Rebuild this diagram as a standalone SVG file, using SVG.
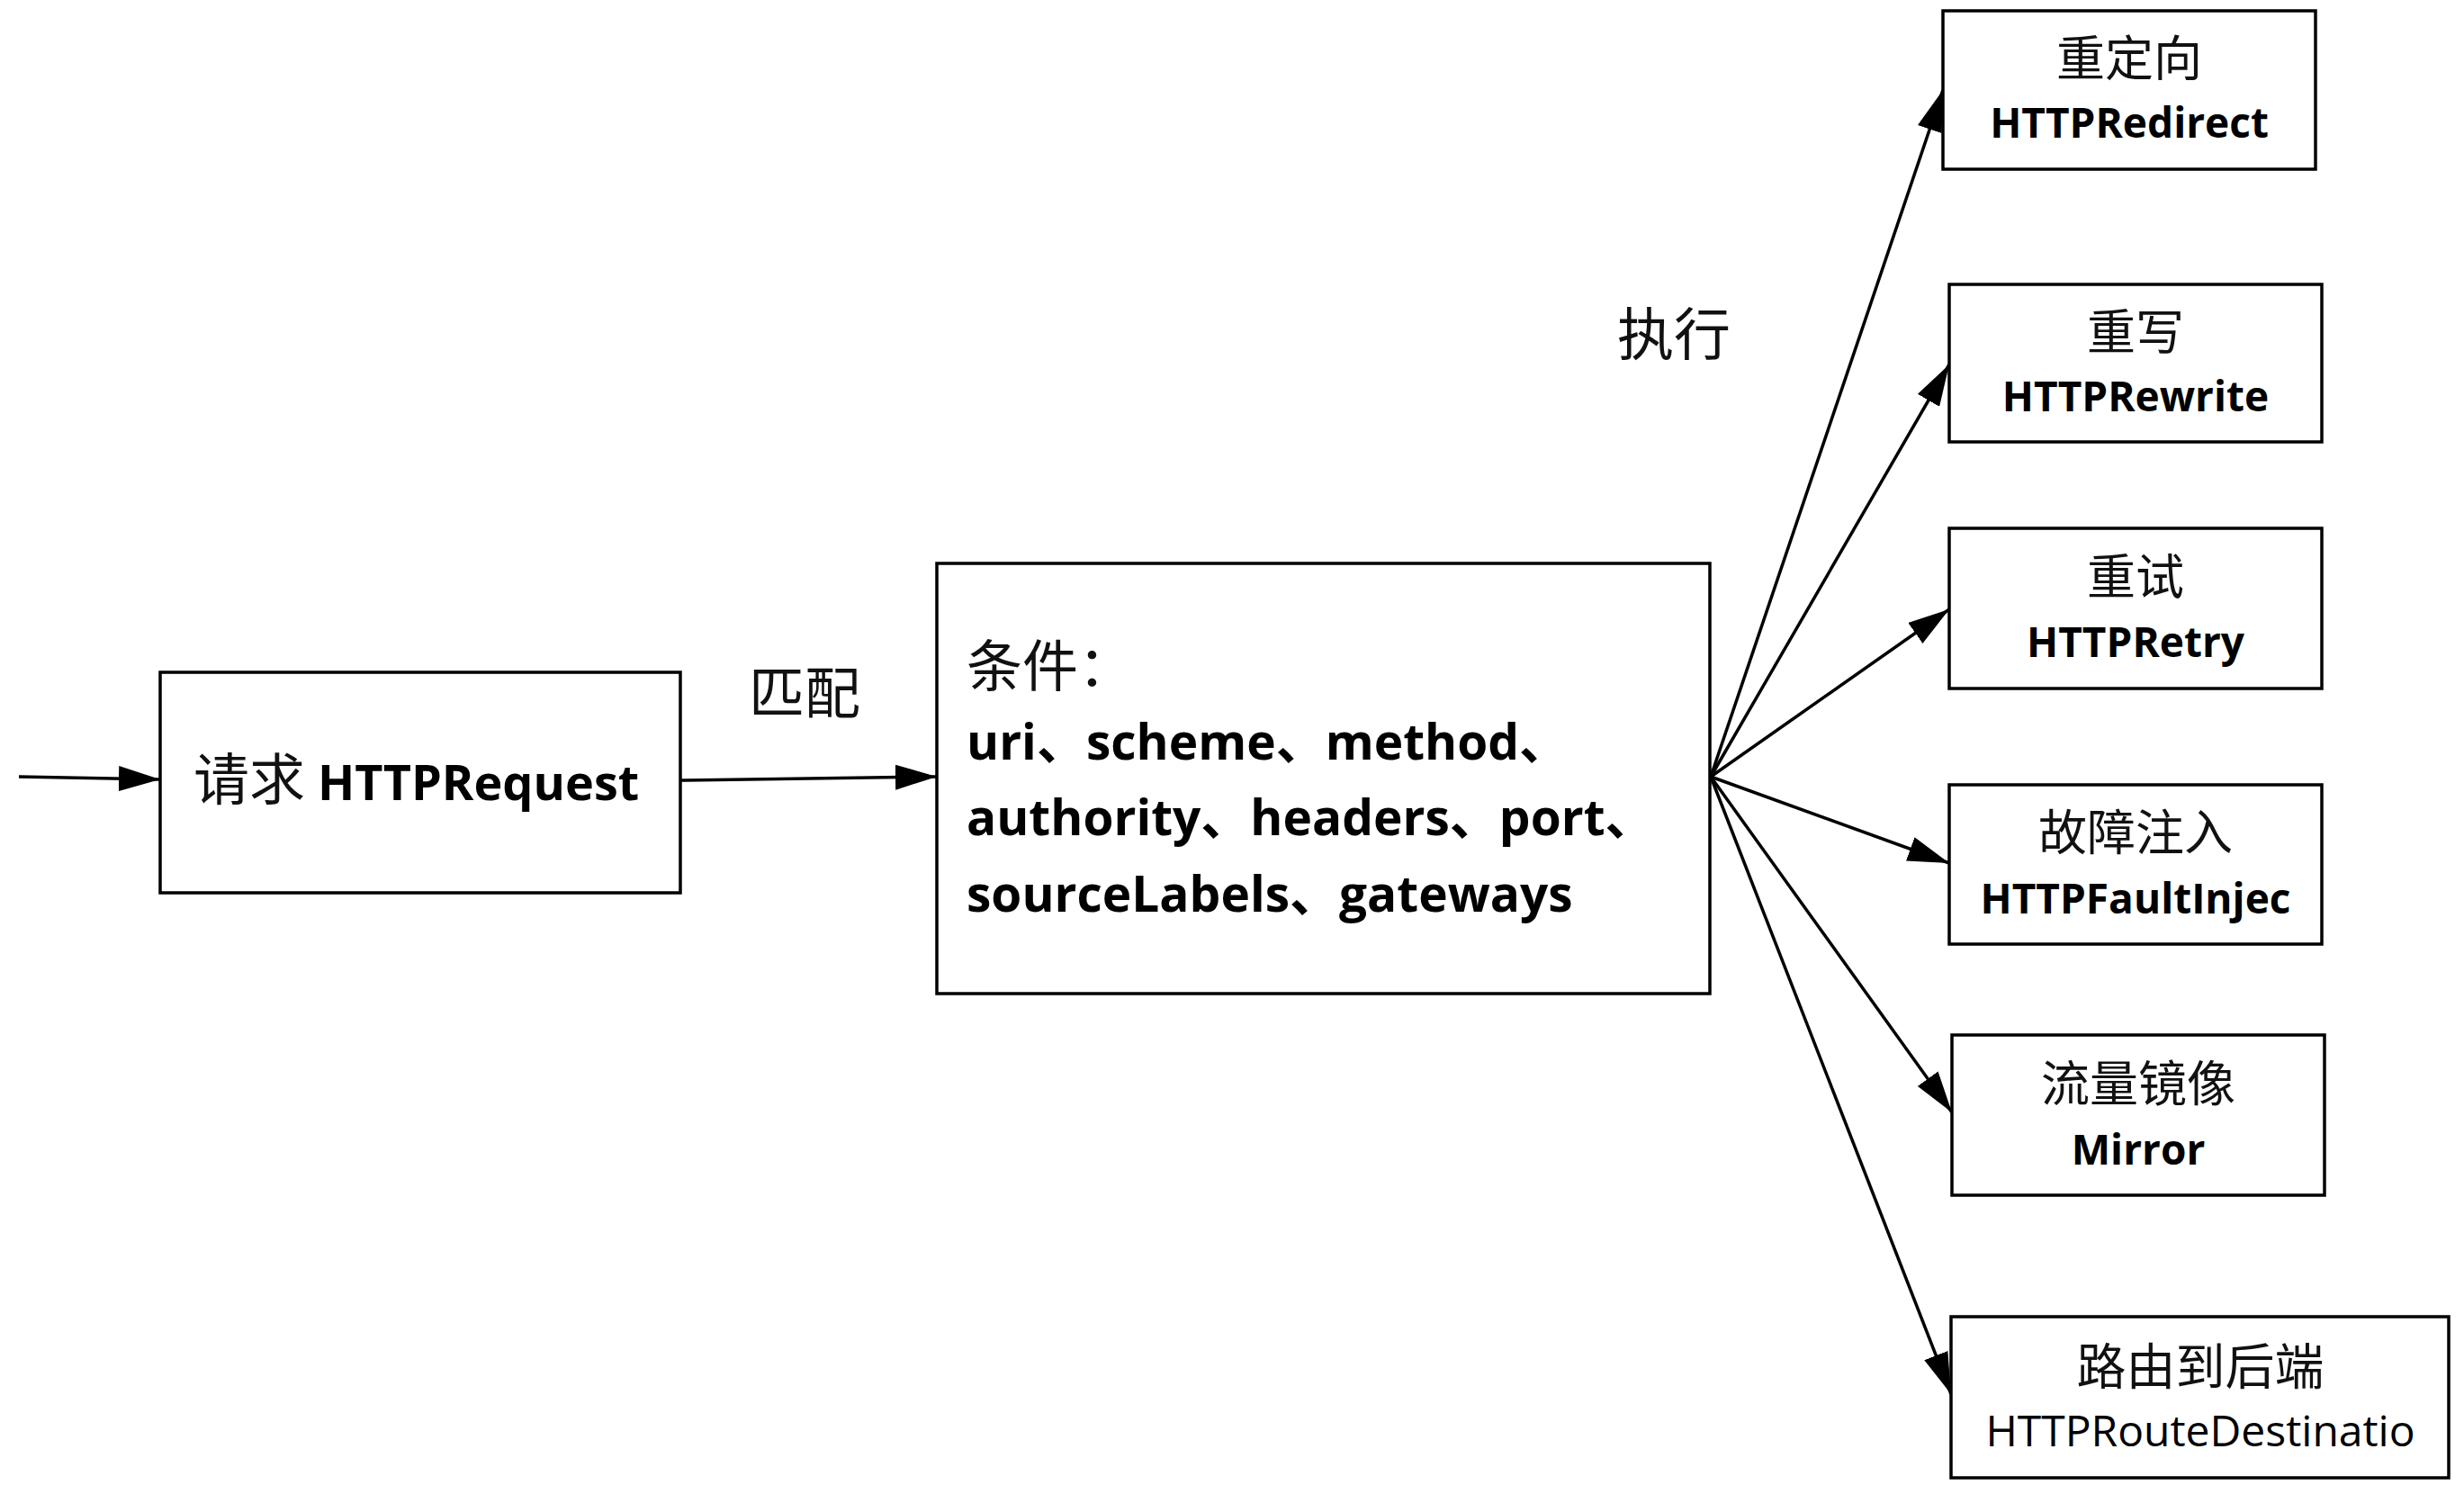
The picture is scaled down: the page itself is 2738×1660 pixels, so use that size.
<svg xmlns="http://www.w3.org/2000/svg" width="2738" height="1660" viewBox="0 0 2738 1660">
<style>
.box{fill:#fff;stroke:#000;stroke-width:3.5}
.cn{font-family:"Noto Sans CJK SC","Noto Sans",sans-serif;font-weight:400;fill:#111}
.lb{font-family:"Open Sans","Noto Sans CJK SC",sans-serif;font-weight:700;fill:#000}
.lr{font-family:"Open Sans","Noto Sans CJK SC",sans-serif;font-weight:400;fill:#000}
.ln{fill:none;stroke:#000;stroke-width:3.5}
</style>
<defs>
<marker id="ah" viewBox="0 0 46 28" refX="46" refY="14" markerWidth="46" markerHeight="28" markerUnits="userSpaceOnUse" orient="auto">
<path d="M0,0 L46,14 L0,28 z" fill="#000"/>
</marker>
</defs>
<rect width="2738" height="1660" fill="#fff"/>
<g id="connectors">
<line class="ln" x1="21" y1="863" x2="178" y2="866" marker-end="url(#ah)"/>
<line class="ln" x1="756" y1="867" x2="1041" y2="863" marker-end="url(#ah)"/>
<line class="ln" x1="1901" y1="863" x2="2159" y2="100" marker-end="url(#ah)"/>
<line class="ln" x1="1901" y1="863" x2="2166" y2="405" marker-end="url(#ah)"/>
<line class="ln" x1="1901" y1="863" x2="2166" y2="677" marker-end="url(#ah)"/>
<line class="ln" x1="1901" y1="863" x2="2166" y2="959" marker-end="url(#ah)"/>
<line class="ln" x1="1901" y1="863" x2="2169" y2="1236" marker-end="url(#ah)"/>
<line class="ln" x1="1901" y1="863" x2="2168" y2="1549" marker-end="url(#ah)"/>
</g>
<g id="label-match"><text class="cn" x="894" y="793" font-size="62" text-anchor="middle">匹配</text></g>
<g id="label-exec"><text class="cn" x="1860" y="394" font-size="63" text-anchor="middle">执行</text></g>
<g id="request">
<rect class="box" x="178" y="747" width="578" height="245"/>
<text x="215" y="889"><tspan class="cn" font-size="62">请求</tspan><tspan class="lb" font-size="54"> HTTPRequest</tspan></text>
</g>
<g id="conditions">
<rect class="box" x="1041" y="626" width="859" height="478"/>
<text class="cn" x="1074" y="763" font-size="62">条件：</text>
<text class="lb" x="1074" y="844" font-size="55">uri、scheme、method、</text>
<text class="lb" x="1074" y="928" font-size="55">authority、headers、port、</text>
<text class="lb" x="1074" y="1013" font-size="55">sourceLabels、gateways</text>
</g>
<g id="redirect">
<rect class="box" x="2159" y="12" width="414" height="176"/>
<text class="cn" x="2366" y="85" font-size="54" text-anchor="middle">重定向</text>
<text class="lb" x="2366" y="153" font-size="46" text-anchor="middle">HTTPRedirect</text>
</g>
<g id="rewrite">
<rect class="box" x="2166" y="316" width="414" height="175"/>
<text class="cn" x="2373" y="389" font-size="54" text-anchor="middle">重写</text>
<text class="lb" x="2373" y="457" font-size="46" text-anchor="middle">HTTPRewrite</text>
</g>
<g id="retry">
<rect class="box" x="2166" y="587" width="414" height="178"/>
<text class="cn" x="2373" y="661" font-size="54" text-anchor="middle">重试</text>
<text class="lb" x="2373" y="730" font-size="46" text-anchor="middle">HTTPRetry</text>
</g>
<g id="fault">
<rect class="box" x="2166" y="872" width="414" height="177"/>
<text class="cn" x="2373" y="945" font-size="54" text-anchor="middle">故障注入</text>
<text class="lb" x="2373" y="1015" font-size="46" text-anchor="middle">HTTPFaultInjec</text>
</g>
<g id="mirror">
<rect class="box" x="2169" y="1150" width="414" height="178"/>
<text class="cn" x="2376" y="1224" font-size="54" text-anchor="middle">流量镜像</text>
<text class="lb" x="2376" y="1294" font-size="46" text-anchor="middle">Mirror</text>
</g>
<g id="route">
<rect class="box" x="2168" y="1463" width="553" height="179"/>
<text class="cn" x="2445" y="1538" font-size="55" text-anchor="middle">路由到后端</text>
<text class="lr" x="2445" y="1607" font-size="48" text-anchor="middle">HTTPRouteDestinatio</text>
</g>
</svg>
